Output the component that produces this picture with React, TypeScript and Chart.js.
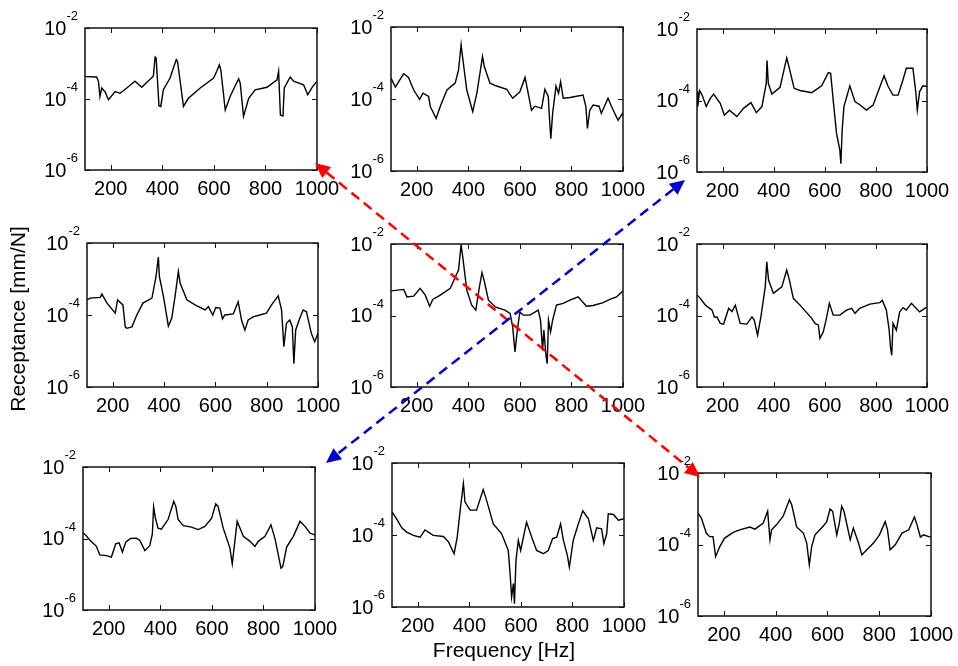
import { useEffect, useRef } from 'react';
import { Chart, registerables } from 'chart.js';

Chart.register(...registerables);

const FONT = '"Liberation Sans", Arial, Helvetica, sans-serif';

// ---- axes / ticks ----
const X_MIN = 100;
const X_MAX = 1000;
const Y_MIN = 1e-6;
const Y_MAX = 1e-2;
const X_TICKS = [200, 400, 600, 800, 1000];
const Y_TICKS = [1e-6, 1e-4, 1e-2];
const Y_TICK_BASE = '10';
const Y_TICK_EXP = ['-6', '-4', '-2'];
const X_TITLE = 'Frequency [Hz]';
const Y_TITLE = 'Receptance [mm/N]';

// ---- data: frequency [Hz] and log10 of receptance [mm/N] ----
const FREQ_1 = [100,145,152,158,165,178,191,217,236,262,294,320,365,372,376,381,387,394,404,430,454,459,482,501,547,599,611,621,627,644,663,696,702,715,735,760,806,845,851,858,868,873,896,909,948,964,981,1000];
const LOGR_1 = [-3.37,-3.38,-3.5,-3.93,-3.69,-3.8,-4.02,-3.79,-3.84,-3.69,-3.5,-3.67,-3.36,-2.82,-2.85,-3.46,-4.19,-4.21,-3.74,-3.41,-2.89,-2.95,-4.21,-3.98,-3.69,-3.41,-3.22,-3.04,-3.18,-4.31,-3.93,-3.43,-3.55,-4.49,-3.98,-3.74,-3.67,-3.46,-3.22,-4.45,-4.48,-3.69,-3.38,-3.5,-3.6,-3.88,-3.67,-3.5];

const FREQ_2 = [100,117,130,149,168,188,211,224,246,252,275,291,317,349,362,372,379,394,417,433,455,462,484,510,549,572,600,620,627,645,658,684,697,710,716,720,727,740,750,758,768,794,845,856,862,871,884,907,916,942,955,981,1000];
const LOGR_2 = [-3.42,-3.67,-3.52,-3.30,-3.40,-3.75,-4.01,-3.84,-3.93,-4.20,-4.54,-4.21,-3.75,-3.56,-3.19,-2.49,-2.91,-3.75,-4.35,-3.84,-2.82,-3.10,-3.56,-3.64,-3.73,-3.98,-3.80,-3.40,-3.65,-4.31,-4.20,-4.26,-3.73,-3.93,-4.68,-5.10,-4.40,-3.64,-3.84,-3.52,-3.98,-3.96,-3.89,-4.21,-4.82,-4.31,-4.17,-4.20,-4.40,-3.98,-4.20,-4.59,-4.38];

const FREQ_3 = [100,103,110,120,136,152,165,191,207,227,256,282,311,332,354,371,374,379,393,425,451,458,480,503,549,588,614,623,633,646,659,663,668,675,698,718,737,763,789,815,832,848,867,887,906,919,945,956,962,971,984,1000];
const LOGR_3 = [-3.75,-4.17,-3.72,-3.85,-4.17,-3.94,-3.82,-4.08,-4.41,-4.27,-4.45,-4.22,-4.06,-4.34,-4.17,-3.52,-2.88,-3.52,-3.82,-3.63,-2.81,-3.00,-3.66,-3.72,-3.78,-3.59,-3.22,-3.24,-3.99,-4.92,-5.39,-5.77,-4.83,-4.17,-3.59,-4.03,-4.12,-4.27,-4.13,-3.63,-3.31,-3.61,-3.85,-3.85,-3.42,-3.10,-3.10,-3.75,-4.27,-3.75,-3.59,-3.61];

const FREQ_4 = [100,113,152,158,178,210,219,240,249,255,275,294,318,353,369,378,382,398,417,430,443,456,463,489,521,560,573,590,602,618,628,637,670,689,702,715,728,747,773,799,819,845,858,867,877,890,900,906,913,929,942,955,974,987,1000];
const LOGR_4 = [-3.58,-3.53,-3.51,-3.42,-3.67,-3.95,-3.58,-3.72,-4.33,-4.37,-4.33,-4.00,-3.67,-3.53,-2.93,-2.39,-2.93,-3.49,-4.31,-4.09,-3.49,-2.79,-3.12,-3.58,-3.72,-3.86,-3.77,-4.00,-3.79,-3.81,-4.11,-4.00,-3.97,-3.63,-4.14,-4.42,-4.14,-4.05,-4.00,-3.95,-3.72,-3.47,-3.86,-4.88,-4.23,-4.14,-4.33,-5.35,-4.42,-4.09,-3.86,-3.91,-4.51,-4.74,-4.51];

const FREQ_5 = [100,149,162,188,213,233,250,262,291,330,362,372,379,394,413,429,443,453,461,478,504,542,562,572,581,590,600,613,639,671,680,688,693,701,706,711,719,727,742,768,794,826,858,884,923,949,975,1000];
const LOGR_5 = [-3.31,-3.27,-3.48,-3.46,-3.24,-3.43,-3.74,-3.55,-3.43,-3.24,-2.73,-2.02,-2.40,-3.29,-3.71,-3.85,-3.20,-2.80,-3.01,-3.57,-3.76,-3.85,-3.94,-4.32,-5.02,-4.41,-3.90,-3.99,-3.99,-3.85,-4.13,-4.98,-4.41,-5.11,-5.35,-4.13,-4.46,-4.13,-3.71,-3.66,-3.57,-3.48,-3.74,-3.72,-3.64,-3.55,-3.48,-3.31];

const FREQ_6 = [100,113,133,146,159,168,178,191,204,224,237,250,269,295,315,324,337,350,367,373,380,399,432,451,460,477,503,549,562,575,581,594,605,618,633,659,685,705,718,737,776,815,825,841,852,857,862,867,880,893,906,919,939,971,1000];
const LOGR_6 = [-3.43,-3.52,-3.71,-3.78,-3.85,-4.04,-4.04,-4.22,-4.24,-3.80,-3.89,-3.71,-4.22,-4.24,-4.04,-4.13,-4.55,-4.04,-3.20,-2.50,-3.01,-3.38,-3.20,-2.73,-2.96,-3.52,-3.71,-4.08,-4.22,-4.27,-4.64,-4.46,-4.13,-3.66,-3.99,-3.99,-3.85,-3.80,-3.94,-3.80,-3.68,-3.64,-3.57,-3.85,-4.41,-4.88,-5.11,-4.22,-4.41,-3.90,-3.78,-3.85,-3.66,-3.90,-3.76];

const FREQ_7 = [100,110,126,152,165,191,210,227,240,253,266,284,307,320,340,359,369,374,381,391,404,430,452,460,469,489,521,547,573,599,615,624,644,670,679,698,722,748,767,780,806,829,845,868,875,890,916,942,961,981,1000];
const LOGR_7 = [-3.85,-3.90,-4.04,-4.22,-4.46,-4.48,-4.52,-4.15,-4.12,-4.38,-4.10,-4.00,-3.99,-4.05,-4.34,-4.20,-3.87,-3.12,-3.43,-3.71,-3.74,-3.47,-2.96,-3.10,-3.47,-3.64,-3.68,-3.75,-3.66,-3.43,-3.03,-3.10,-3.71,-4.27,-4.71,-3.52,-3.94,-4.08,-4.22,-4.08,-3.94,-3.62,-4.01,-4.83,-4.78,-4.24,-3.94,-3.52,-3.66,-3.85,-3.90];

const FREQ_8 = [100,118,138,157,183,209,228,260,299,319,341,353,366,377,383,403,428,454,465,493,525,551,558,564,571,575,581,590,599,622,642,661,687,706,723,739,754,765,780,788,803,823,840,862,881,894,913,922,933,939,959,978,1000];
const LOGR_8 = [-3.36,-3.55,-3.80,-3.92,-4.01,-4.06,-3.86,-4.01,-4.04,-4.19,-4.52,-4.06,-3.22,-2.57,-3.08,-3.31,-3.31,-2.74,-2.99,-3.69,-3.96,-4.43,-5.07,-5.72,-5.35,-5.91,-4.70,-4.15,-4.43,-3.64,-4.06,-4.43,-4.52,-4.43,-4.10,-4.06,-3.69,-4.15,-4.56,-4.89,-4.15,-3.69,-3.33,-3.55,-4.15,-3.80,-3.83,-4.24,-3.96,-3.41,-3.43,-3.59,-3.55];

const FREQ_9 = [100,113,132,145,158,168,184,203,236,261,300,320,352,369,378,384,403,429,453,462,481,507,520,530,539,552,584,597,610,620,636,646,655,664,688,700,720,733,752,778,801,823,832,842,862,888,914,936,946,959,971,991,1000];
const LOGR_9 = [-3.12,-3.26,-3.68,-3.78,-3.78,-4.34,-4.06,-3.82,-3.66,-3.59,-3.51,-3.57,-3.40,-3.07,-3.87,-3.59,-3.45,-3.21,-2.75,-2.89,-3.51,-3.68,-3.96,-4.57,-4.06,-3.73,-3.48,-3.37,-3.01,-3.07,-3.73,-3.40,-2.93,-3.07,-3.87,-3.54,-3.96,-4.29,-4.15,-3.96,-3.73,-3.36,-3.59,-4.15,-4.01,-3.68,-3.59,-3.23,-3.45,-3.79,-3.73,-3.78,-3.79];

const PANEL_FREQ = [FREQ_1, FREQ_2, FREQ_3, FREQ_4, FREQ_5, FREQ_6, FREQ_7, FREQ_8, FREQ_9];
const PANEL_LOGR = [LOGR_1, LOGR_2, LOGR_3, LOGR_4, LOGR_5, LOGR_6, LOGR_7, LOGR_8, LOGR_9];

// ---- layout (plot boxes on the page: left, top, right, bottom) ----
const PANEL_BOX = [
  [85, 28, 317, 170], [391, 27, 623, 171], [697, 29, 927, 172],
  [87, 243, 318, 387], [391, 244, 623, 387], [697, 244, 927, 387],
  [83, 467, 315, 610], [392, 463, 624, 607], [698, 473, 931, 616],
];
const PAD = { left: 70, top: 25, right: 30, bottom: 40 };
const PAGE_W = 958;
const PAGE_H = 666;

const framePlugin = {
  id: 'matlabFrame',
  afterDatasetsDraw(chart: any) {
    const { ctx, chartArea: a, scales } = chart;
    const xs = scales.x;
    const ys = scales.y;
    ctx.save();
    ctx.strokeStyle = '#111';
    ctx.lineWidth = 1.5;
    ctx.strokeRect(a.left, a.top, a.right - a.left, a.bottom - a.top);
    ctx.lineWidth = 1;
    ctx.beginPath();
    for (const v of X_TICKS) {
      const px = Math.round(xs.getPixelForValue(v)) + 0.5;
      ctx.moveTo(px, a.bottom); ctx.lineTo(px, a.bottom - 5);
      ctx.moveTo(px, a.top); ctx.lineTo(px, a.top + 5);
    }
    for (const v of Y_TICKS) {
      const py = Math.round(ys.getPixelForValue(v)) + 0.5;
      ctx.moveTo(a.left, py); ctx.lineTo(a.left + 5, py);
      ctx.moveTo(a.right, py); ctx.lineTo(a.right - 5, py);
    }
    ctx.stroke();

    ctx.fillStyle = '#000';
    ctx.textBaseline = 'alphabetic';
    ctx.font = `20px ${FONT}`;
    ctx.textAlign = 'center';
    for (const v of X_TICKS) {
      ctx.fillText(String(v), xs.getPixelForValue(v), a.bottom + 25);
    }
    ctx.textAlign = 'right';
    Y_TICKS.forEach((v, i) => {
      const py = ys.getPixelForValue(v);
      const right = a.left - 7;
      ctx.font = `13px ${FONT}`;
      const ew = ctx.measureText(Y_TICK_EXP[i]).width;
      ctx.fillText(Y_TICK_EXP[i], right, py - 8);
      ctx.font = `20px ${FONT}`;
      ctx.fillText(Y_TICK_BASE, right - ew, py + 6.5);
    });
    ctx.restore();
  },
};

function drawArrow(ctx: CanvasRenderingContext2D, x1: number, y1: number, x2: number, y2: number, color: string) {
  const ang = Math.atan2(y2 - y1, x2 - x1);
  const c = Math.cos(ang);
  const s = Math.sin(ang);
  const HL = 15;
  const HW = 7;
  ctx.save();
  ctx.strokeStyle = color;
  ctx.fillStyle = color;
  ctx.lineWidth = 2.5;
  ctx.setLineDash([10, 6]);
  ctx.beginPath();
  ctx.moveTo(x1 + c * HL, y1 + s * HL);
  ctx.lineTo(x2 - c * HL, y2 - s * HL);
  ctx.stroke();
  ctx.setLineDash([]);
  const head = (tx: number, ty: number, dx: number, dy: number) => {
    const bx = tx - dx * HL;
    const by = ty - dy * HL;
    ctx.beginPath();
    ctx.moveTo(tx, ty);
    ctx.lineTo(bx - dy * HW, by + dx * HW);
    ctx.lineTo(bx + dy * HW, by - dx * HW);
    ctx.closePath();
    ctx.fill();
  };
  head(x2, y2, c, s);
  head(x1, y1, -c, -s);
  ctx.restore();
}

export default function App() {
  const refs = useRef<(HTMLCanvasElement | null)[]>([]);
  const overlayRef = useRef<HTMLCanvasElement | null>(null);

  useEffect(() => {
    const charts = PANEL_BOX.map((_, i) => {
      const canvas = refs.current[i] as HTMLCanvasElement;
      const fr = PANEL_FREQ[i];
      const lg = PANEL_LOGR[i];
      return new Chart(canvas, {
        type: 'line',
        data: {
          datasets: [{
            data: fr.map((f, k) => ({ x: f, y: Math.pow(10, lg[k]) })),
            borderColor: '#000',
            borderWidth: 1.4,
            pointRadius: 0,
            tension: 0,
            fill: false,
          }],
        },
        options: {
          animation: false,
          responsive: false,
          devicePixelRatio: 1,
          events: [],
          layout: { padding: PAD },
          plugins: { legend: { display: false }, tooltip: { enabled: false } },
          scales: {
            x: { type: 'linear', min: X_MIN, max: X_MAX, display: false },
            y: { type: 'logarithmic', min: Y_MIN, max: Y_MAX, display: false },
          },
        },
        plugins: [framePlugin],
      } as any);
    });

    const ov = overlayRef.current as HTMLCanvasElement;
    const ctx = ov.getContext('2d') as CanvasRenderingContext2D;
    ctx.clearRect(0, 0, PAGE_W, PAGE_H);
    const area = (i: number) => {
      const a = charts[i].chartArea;
      const ox = PANEL_BOX[i][0] - PAD.left;
      const oy = PANEL_BOX[i][1] - PAD.top;
      return { left: a.left + ox, right: a.right + ox, top: a.top + oy, bottom: a.bottom + oy };
    };
    const p1 = area(0);
    const p3 = area(2);
    const p7 = area(6);
    const p9 = area(8);
    drawArrow(ctx, p1.right - 2, p1.bottom - 7, p9.left + 2, p9.top + 4, '#ff0000');
    drawArrow(ctx, p3.left - 12, p3.bottom + 8, p7.right + 11, p7.top - 4, '#0000cc');

    ctx.fillStyle = '#000';
    ctx.font = `21px ${FONT}`;
    ctx.textAlign = 'center';
    ctx.textBaseline = 'alphabetic';
    ctx.fillText(X_TITLE, 504, 657);
    ctx.save();
    ctx.translate(25, 319);
    ctx.rotate(-Math.PI / 2);
    ctx.fillText(Y_TITLE, 0, 0);
    ctx.restore();

    return () => {
      charts.forEach((c) => c.destroy());
    };
  }, []);

  return (
    <div style={{ position: 'absolute', left: 0, top: 0, width: PAGE_W, height: PAGE_H, background: '#fff', overflow: 'hidden' }}>
      {PANEL_BOX.map((b, i) => {
        const w = b[2] - b[0] + PAD.left + PAD.right;
        const h = b[3] - b[1] + PAD.top + PAD.bottom;
        return (
          <canvas
            key={i}
            ref={(el) => { refs.current[i] = el; }}
            width={w}
            height={h}
            style={{ position: 'absolute', left: b[0] - PAD.left, top: b[1] - PAD.top, width: w, height: h }}
          />
        );
      })}
      <canvas
        ref={overlayRef}
        width={PAGE_W}
        height={PAGE_H}
        style={{ position: 'absolute', left: 0, top: 0, width: PAGE_W, height: PAGE_H, pointerEvents: 'none' }}
      />
    </div>
  );
}
